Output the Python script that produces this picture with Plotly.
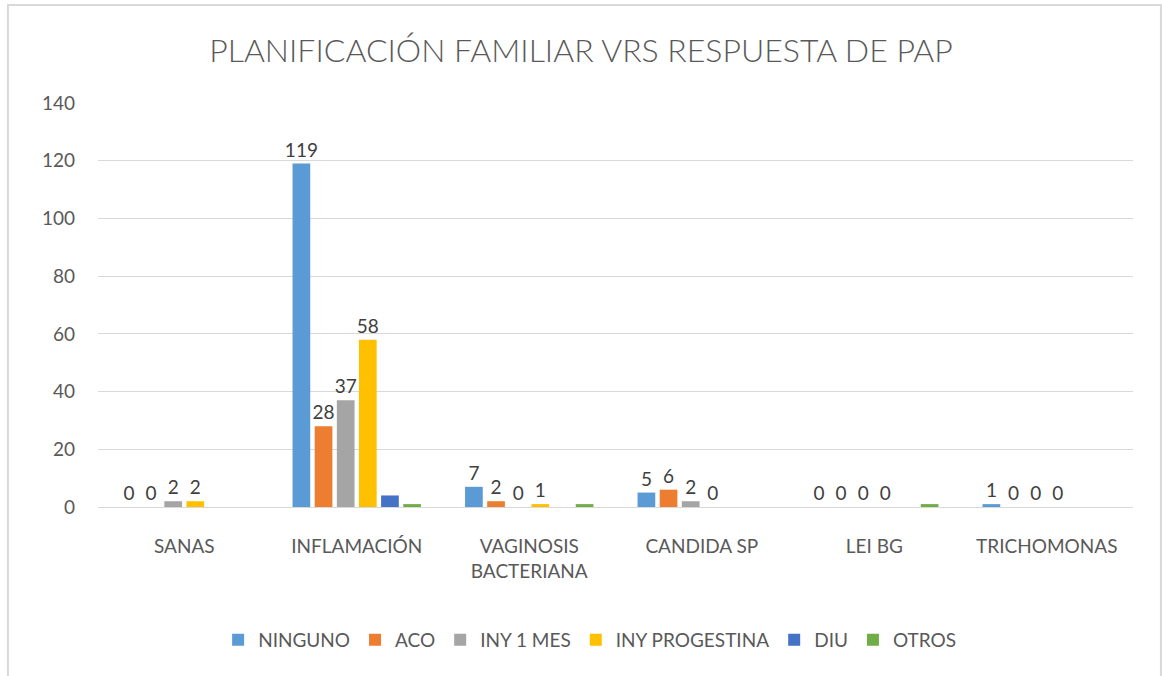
import plotly.graph_objects as go

categories = ["SANAS", "INFLAMACIÓN", "VAGINOSIS<br>BACTERIANA", "CANDIDA SP", "LEI BG", "TRICHOMONAS"]
ninguno = [0, 119, 7, 5, 0, 1]
aco = [0, 28, 2, 6, 0, 0]
iny_1_mes = [2, 37, 0, 2, 0, 0]
iny_progestina = [2, 58, 1, 0, 0, 0]
diu = [0, 4, 0, 0, 0, 0]
otros = [0, 1, 1, 0, 1, 0]

series = [
    ("NINGUNO", ninguno, "#5B9BD5", True),
    ("ACO", aco, "#ED7D31", True),
    ("INY 1 MES", iny_1_mes, "#A5A5A5", True),
    ("INY PROGESTINA", iny_progestina, "#FFC000", True),
    ("DIU", diu, "#4472C4", False),
    ("OTROS", otros, "#70AD47", False),
]

FONT = "Lato, 'Open Sans', sans-serif"

fig = go.Figure()
for name, vals, color, labelled in series:
    fig.add_trace(go.Bar(
        name=name, x=categories, y=vals, marker_color=color,
        marker_line_width=0,
        text=[str(v) for v in vals] if labelled else None,
        textposition="outside" if labelled else "none",
        constraintext="none",
        textfont=dict(size=19, color="#404040", family=FONT),
        cliponaxis=False,
    ))

fig.update_layout(
    width=1162, height=676,
    paper_bgcolor="white", plot_bgcolor="white",
    font=dict(family=FONT, color="#595959"),
    title=dict(text="PLANIFICACIÓN FAMILIAR VRS RESPUESTA DE PAP",
               x=0.5, xanchor="center", y=0.925, yanchor="middle",
               font=dict(size=32, color="#595959", family=FONT, weight=300)),
    margin=dict(l=98, r=29, t=103, b=169),
    barmode="group", bargap=0.23, bargroupgap=0.2,
    showlegend=True,
    legend=dict(orientation="h", x=0.475, xanchor="center", y=-0.329, yanchor="middle",
                font=dict(size=19, color="#595959", family=FONT),
                itemwidth=30, traceorder="normal"),
)
fig.update_yaxes(range=[0, 140], dtick=20, showgrid=True, gridcolor="#D9D9D9", gridwidth=1,
                 zeroline=False, showline=False, ticks="",
                 tickfont=dict(size=19, color="#595959", family=FONT), ticklabelstandoff=22)
fig.update_xaxes(showline=True, linecolor="#D9D9D9", linewidth=1, ticks="",
                 tickfont=dict(size=19, color="#595959", family=FONT), ticklabelstandoff=22)

fig.add_shape(type="rect", xref="paper", yref="paper", x0=-0.087, x1=1.027, y0=-0.43, y1=1.2426,
              line=dict(color="#D9D9D9", width=2), fillcolor="rgba(0,0,0,0)", layer="below")

fig.write_html("out.html", config={"displayModeBar": False},
               post_script="document.body.style.margin='0';")
